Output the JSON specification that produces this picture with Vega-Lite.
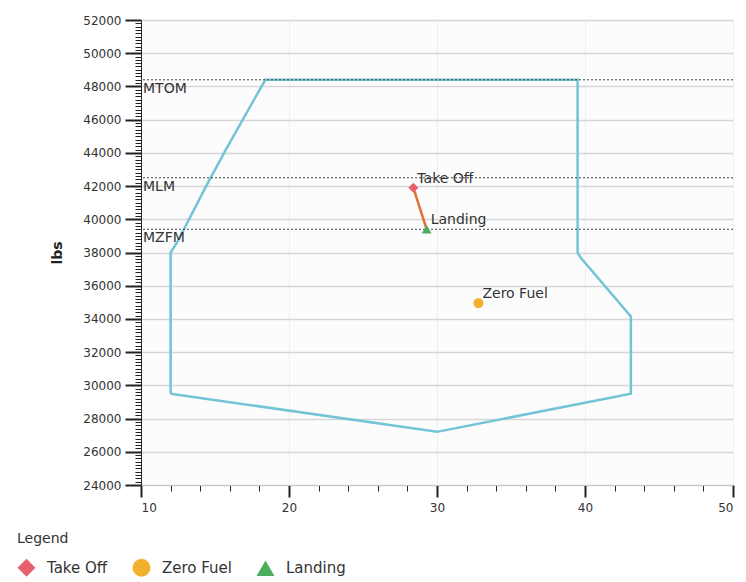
{
  "$schema": "https://vega.github.io/schema/vega-lite/v6.json",
  "width": 592,
  "height": 465,
  "autosize": {"type": "none"},
  "padding": {"left": 141, "top": 20, "right": 13, "bottom": 97},
  "background": "white",
  "config": {
    "font": "DejaVu Sans",
    "view": {"stroke": "#e6e6e6", "fill": "#fcfcfd"},
    "axis": {"labelFont": "DejaVu Sans", "titleFont": "DejaVu Sans"}
  },
  "datasets": {
    "envelope": [
      {"i": 0, "cg": 12, "w": 29500},
      {"i": 1, "cg": 12, "w": 38000},
      {"i": 2, "cg": 12.5, "w": 38700},
      {"i": 3, "cg": 14.4, "w": 42000},
      {"i": 4, "cg": 15.8, "w": 44300},
      {"i": 5, "cg": 18.4, "w": 48400},
      {"i": 6, "cg": 39.5, "w": 48400},
      {"i": 7, "cg": 39.5, "w": 38000},
      {"i": 8, "cg": 39.7, "w": 37700},
      {"i": 9, "cg": 43.1, "w": 34150},
      {"i": 10, "cg": 43.1, "w": 29500},
      {"i": 11, "cg": 30.0, "w": 27200},
      {"i": 12, "cg": 12, "w": 29500}
    ],
    "limits": [
      {"name": "MTOM", "w": 48400},
      {"name": "MLM", "w": 42500},
      {"name": "MZFM", "w": 39400}
    ],
    "flight": [
      {"i": 0, "cg": 28.4, "w": 41900},
      {"i": 1, "cg": 29.3, "w": 39400}
    ],
    "points": [
      {"name": "Take Off", "cg": 28.4, "w": 41900},
      {"name": "Zero Fuel", "cg": 32.8, "w": 34950},
      {"name": "Landing", "cg": 29.3, "w": 39400}
    ]
  },
  "layer": [
    {
      "data": {"name": "envelope"},
      "mark": {"type": "line", "color": "#72c4d6", "strokeWidth": 2.5},
      "encoding": {
        "x": {
          "field": "cg", "type": "quantitative",
          "scale": {"domain": [10, 50], "nice": false, "zero": false},
          "axis": {
            "title": null,
            "tickCount": 20,
            "format": "d",
            "labelExpr": "datum.value % 10 === 0 ? datum.label : ''",
            "labelOverlap": false,
            "labelFontSize": 12,
            "labelColor": "#333333",
            "labelPadding": 5,
            "domainColor": "#c8c8c8",
            "tickColor": "#222222",
            "tickSize": {"condition": {"test": "datum.value % 10 === 0", "value": 12}, "value": 6},
            "tickWidth": {"condition": {"test": "datum.value % 10 === 0", "value": 2}, "value": 1},
            "grid": true,
            "gridColor": "#eeeeee",
            "gridOpacity": {"condition": {"test": "datum.value % 10 === 0", "value": 1}, "value": 0}
          }
        },
        "y": {
          "field": "w", "type": "quantitative",
          "scale": {"domain": [24000, 52000], "nice": false, "zero": false},
          "axis": {
            "title": "lbs",
            "titleFontSize": 14,
            "titleFontWeight": "bold",
            "titleColor": "#222222",
            "titlePadding": 18,
            "tickCount": 140,
            "format": "d",
            "labelExpr": "datum.value % 2000 === 0 ? datum.label : ''",
            "labelOverlap": false,
            "labelFontSize": 12,
            "labelColor": "#333333",
            "labelPadding": 4,
            "domainColor": "#222222",
            "tickColor": "#222222",
            "tickSize": {"condition": {"test": "datum.value % 2000 === 0", "value": 16}, "value": 6},
            "tickWidth": {"condition": {"test": "datum.value % 2000 === 0", "value": 2}, "value": 1},
            "grid": true,
            "gridColor": "#d6d6d6",
            "gridWidth": 1.5,
            "gridOpacity": {"condition": {"test": "datum.value % 2000 === 0", "value": 1}, "value": 0}
          }
        },
        "order": {"field": "i", "type": "quantitative"}
      }
    },
    {
      "data": {"name": "limits"},
      "mark": {"type": "rule", "color": "#444444", "strokeDash": [2, 2], "strokeWidth": 1},
      "encoding": {"y": {"field": "w", "type": "quantitative"}}
    },
    {
      "data": {"name": "limits"},
      "mark": {"type": "text", "align": "left", "baseline": "top", "dx": 2, "dy": 2, "fontSize": 14, "color": "#333333"},
      "encoding": {
        "x": {"datum": 10, "type": "quantitative"},
        "y": {"field": "w", "type": "quantitative"},
        "text": {"field": "name"}
      }
    },
    {
      "data": {"name": "flight"},
      "mark": {"type": "line", "color": "#e0703a", "strokeWidth": 2.5},
      "encoding": {
        "x": {"field": "cg", "type": "quantitative"},
        "y": {"field": "w", "type": "quantitative"},
        "order": {"field": "i", "type": "quantitative"}
      }
    },
    {
      "data": {"name": "points"},
      "mark": {"type": "point", "filled": true, "opacity": 1, "size": 100},
      "encoding": {
        "x": {"field": "cg", "type": "quantitative"},
        "y": {"field": "w", "type": "quantitative"},
        "color": {
          "field": "name", "type": "nominal",
          "scale": {"domain": ["Take Off", "Zero Fuel", "Landing"], "range": ["#e8606e", "#f2b02e", "#4cae5c"]},
          "legend": {
            "title": "Legend",
            "orient": "none",
            "legendX": -124,
            "legendY": 512,
            "direction": "horizontal",
            "titleFontSize": 14,
            "titleFontWeight": "normal",
            "titleColor": "#333333",
            "titlePadding": 12,
            "labelFontSize": 15,
            "labelColor": "#333333",
            "symbolSize": 320,
            "symbolStrokeWidth": 1,
            "columnPadding": 24,
            "labelOffset": 11
          }
        },
        "shape": {
          "field": "name", "type": "nominal",
          "scale": {"domain": ["Take Off", "Zero Fuel", "Landing"], "range": ["diamond", "circle", "triangle-up"]}
        }
      }
    },
    {
      "data": {"name": "points"},
      "mark": {"type": "text", "align": "left", "baseline": "middle", "dx": 4, "dy": -9, "fontSize": 14, "color": "#333333"},
      "encoding": {
        "x": {"field": "cg", "type": "quantitative"},
        "y": {"field": "w", "type": "quantitative"},
        "text": {"field": "name"}
      }
    }
  ]
}
